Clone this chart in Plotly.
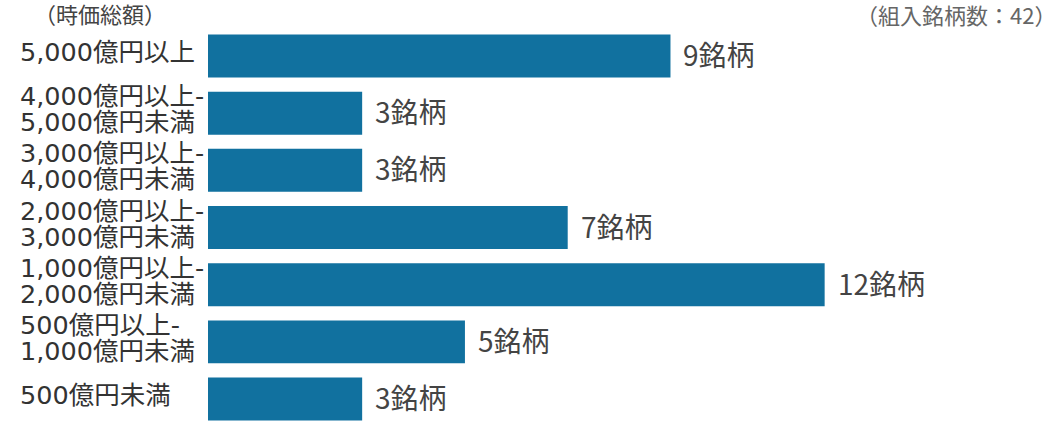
import plotly.graph_objects as go

# 時価総額別の組入銘柄数
categories = ["5,000億円以上", "4,000億円以上-5,000億円未満", "3,000億円以上-4,000億円未満",
              "2,000億円以上-3,000億円未満", "1,000億円以上-2,000億円未満",
              "500億円以上-1,000億円未満", "500億円未満"]
label_lines = [
    ["5,000億円以上"],
    ["4,000億円以上-", "5,000億円未満"],
    ["3,000億円以上-", "4,000億円未満"],
    ["2,000億円以上-", "3,000億円未満"],
    ["1,000億円以上-", "2,000億円未満"],
    ["500億円以上-", "1,000億円未満"],
    ["500億円未満"],
]
counts = [9, 3, 3, 7, 12, 5, 3]
value_labels = [f"{c}銘柄" for c in counts]

bar_color = "#11719f"
cjk = "Noto Sans CJK JP"
label_font = dict(family="DejaVu Sans, " + cjk, size=25.5, color="#333333")

fig = go.Figure(go.Bar(
    x=counts, y=categories, orientation="h",
    marker=dict(color=bar_color, line=dict(width=0)),
    hoverinfo="skip",
))

annotations = []
# bar value labels
for cat, val, txt in zip(categories, counts, value_labels):
    annotations.append(dict(
        x=val, y=cat, xref="x", yref="y", text=txt,
        xanchor="left", yanchor="middle", xshift=11, yshift=2,
        showarrow=False, font=dict(family=cjk, size=28, color="#444444"),
    ))

# left-aligned category labels, one annotation per line
for cat, lines in zip(categories, label_lines):
    n = len(lines)
    for k, line in enumerate(lines):
        annotations.append(dict(
            x=0, y=cat, xref="paper", yref="y", text=line,
            xanchor="left", yanchor="middle", xshift=-190,
            yshift=(n - 1) * 13 - k * 26 + 4,
            showarrow=False, font=label_font,
        ))

annotations.append(dict(
    x=0, y=1, xref="paper", yref="paper", text="（時価総額）",
    xanchor="left", yanchor="middle", xshift=-176, yshift=15,
    showarrow=False, font=dict(family=cjk, size=22, color="#444444"),
))
annotations.append(dict(
    x=1, y=1, xref="paper", yref="paper", text="（組入銘柄数：42）",
    xanchor="right", yanchor="middle", xshift=-2, yshift=14,
    showarrow=False, font=dict(family=cjk, size=22, color="#666666"),
))

fig.update_layout(
    width=1060, height=425,
    margin=dict(l=208, r=0, t=28, b=0),
    paper_bgcolor="white", plot_bgcolor="white",
    bargap=0.248, showlegend=False,
    xaxis=dict(range=[0, 16.58], visible=False, fixedrange=True),
    yaxis=dict(type="category", range=[6.454, -0.49], showticklabels=False,
               showgrid=False, zeroline=False, showline=False, fixedrange=True),
    annotations=annotations,
)

fig.write_html("out.html", config={"displayModeBar": False},
               post_script="document.body.style.margin='0';document.body.style.overflow='hidden';")
